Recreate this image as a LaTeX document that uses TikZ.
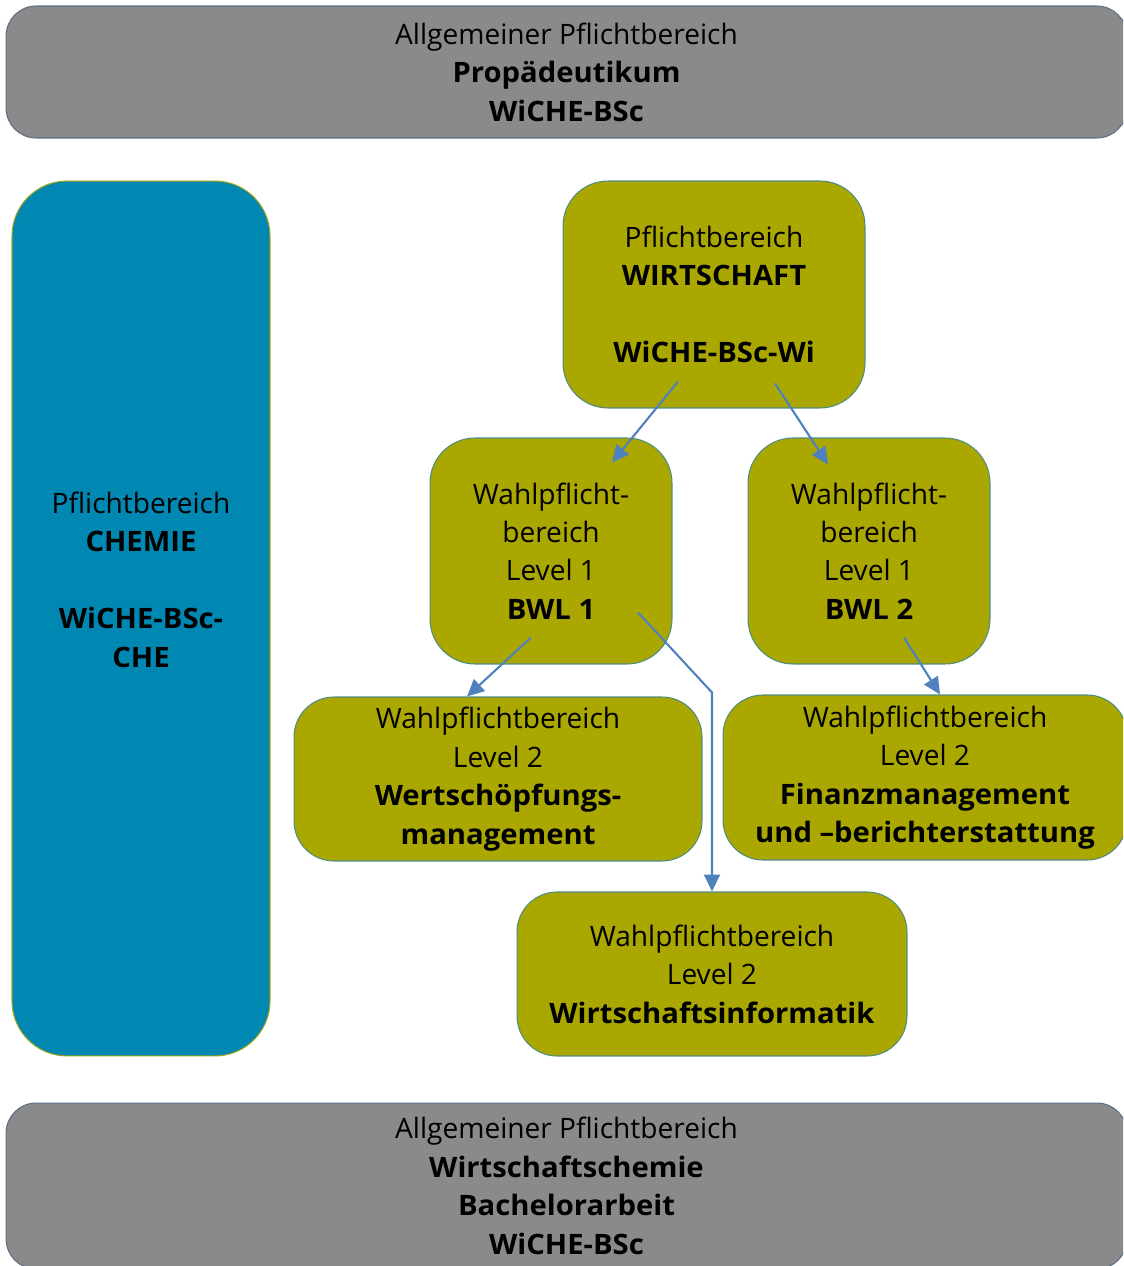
\documentclass[tikz,border=0pt]{standalone}
\usepackage{fontspec}
\setmainfont{Open Sans}[BoldFeatures={FakeStretch=1.04}]
\usetikzlibrary{arrows.meta}
\definecolor{balkengrau}{HTML}{8A8A8A}
\definecolor{randgrau}{HTML}{5E6F88}
\definecolor{chemieblau}{HTML}{0088B3}
\definecolor{randgelb}{HTML}{9AA41A}
\definecolor{wirtoliv}{HTML}{AAA800}
\definecolor{randoliv}{HTML}{4E8C82}
\definecolor{pfeilblau}{HTML}{4F81BD}

\begin{document}
\begin{tikzpicture}[x=0.02cm, y=-0.02cm,
	feld/.style={rectangle, align=center, inner sep=0pt, line width=0.6pt,
		font=\fontsize{16}{21.9}\selectfont},
	grau/.style={feld, fill=balkengrau, draw=randgrau, rounded corners=0.6cm},
	blau/.style={feld, fill=chemieblau, draw=randgelb, rounded corners=1.1cm},
	oliv/.style={feld, fill=wirtoliv, draw=randoliv, rounded corners=0.9cm},
	pfeil/.style={draw=pfeilblau, line width=1.2pt, -{Triangle[length=0.34cm, width=0.32cm]}}
	]
	\useasboundingbox (0,0) rectangle (1123,1266);
	\clip (0,0) rectangle (1123,1266);

	% obere und untere Balken
	\node [grau, minimum width=22.42cm, minimum height=2.64cm] (oben) at (566.5,72)
		{Allgemeiner Pflichtbereich\\\textbf{Propädeutikum}\\\textbf{WiCHE-BSc}};
	\node [grau, minimum width=22.42cm, minimum height=3.32cm] (unten) at (566.5,1186)
		{Allgemeiner Pflichtbereich\\\textbf{Wirtschaftschemie}\\\textbf{Bachelorarbeit}\\\textbf{WiCHE-BSc}};

	% Chemie
	\node [blau, minimum width=5.16cm, minimum height=17.5cm] (chembox) at (141,618.5) {};
	\node [feld] (chemie) at (141,579.5)
		{Pflichtbereich\\\textbf{CHEMIE}\\~\\\textbf{WiCHE-BSc-}\\\textbf{CHE}};

	% Wirtschaft
	\node [oliv, minimum width=6.04cm, minimum height=4.54cm] (wi) at (714,294.5)
		{Pflichtbereich\\\textbf{WIRTSCHAFT}\\~\\\textbf{WiCHE-BSc-Wi}};
	\node [oliv, minimum width=4.84cm, minimum height=4.52cm] (bwla) at (551,551)
		{Wahlpflicht-\\bereich\\Level 1\\\textbf{BWL 1}};
	\node [oliv, minimum width=4.84cm, minimum height=4.52cm] (bwlb) at (869,551)
		{Wahlpflicht-\\bereich\\Level 1\\\textbf{BWL 2}};
	\node [oliv, rounded corners=0.8cm, minimum width=8.16cm, minimum height=3.28cm] (wsm) at (498,779)
		{Wahlpflichtbereich\\Level 2\\\textbf{Wertschöpfungs-}\\\textbf{management}};
	\node [oliv, rounded corners=0.8cm, minimum width=8.08cm, minimum height=3.3cm] (fin) at (925,777.5)
		{Wahlpflichtbereich\\Level 2\\\textbf{Finanzmanagement}\\\textbf{und –berichterstattung}};
	\node [oliv, rounded corners=0.8cm, minimum width=7.8cm, minimum height=3.28cm] (winf) at (712,974)
		{Wahlpflichtbereich\\Level 2\\\textbf{Wirtschaftsinformatik}};

	% Pfeile
	\draw [pfeil] ([shift={(-36,-27)}]wi.south) -- ([shift={(61,25)}]bwla.north);
	\draw [pfeil] ([shift={(61,-25)}]wi.south) -- ([shift={(-41,27)}]bwlb.north);
	\draw [pfeil] ([shift={(-20,-27)}]bwla.south) -- ([shift={(-31,0)}]wsm.north);
	\draw [pfeil] ([shift={(35,-27)}]bwlb.south) -- ([shift={(15,0)}]fin.north);
	\draw [pfeil] ([shift={(87,-52)}]bwla.south) -- ([shift={(0,-199)}]winf.north) -- (winf.north);
\end{tikzpicture}
\end{document}
